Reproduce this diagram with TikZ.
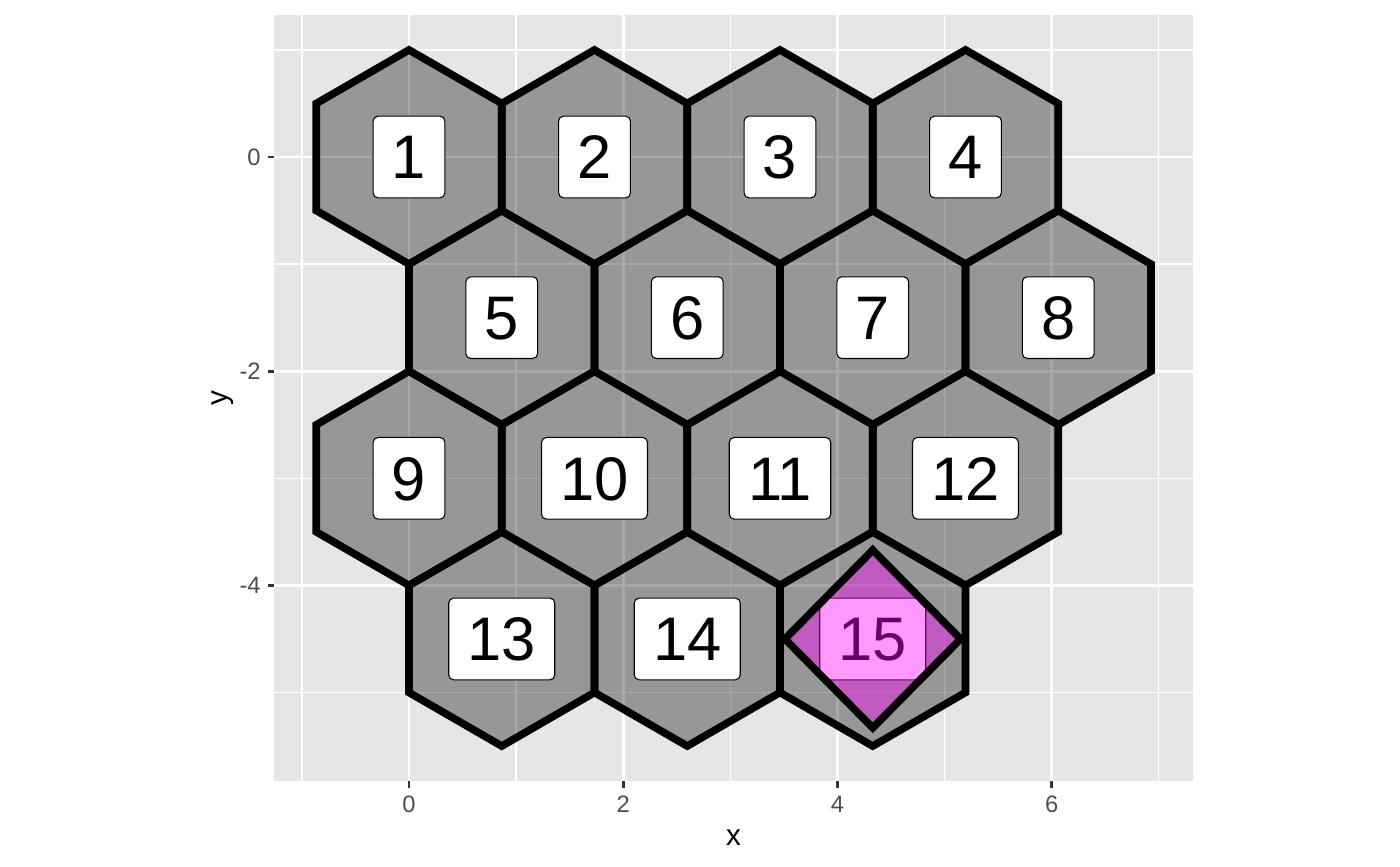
\documentclass[tikz,border=0pt]{standalone}
\usepackage{fontspec}
\setmainfont{Liberation Sans}
\usetikzlibrary{positioning}
\definecolor{panelbg}{HTML}{E6E6E6}
\definecolor{ticktext}{HTML}{4D4D4D}
\definecolor{tickline}{HTML}{333333}
\definecolor{gemfill}{RGB}{255,0,255}
\begin{document}
\begin{tikzpicture}[x=2.142cm,y=2.142cm,
    hexa/.style={draw=black,line width=4.3pt,fill=black,fill opacity=0.34},
    lbl/.style={draw,fill=white,rounded corners=2.8pt,line width=0.6pt,
      font=\fontsize{35}{42}\selectfont,inner xsep=10.7pt,inner ysep=0pt,
      minimum height=46.5pt,text height=25pt,text depth=0pt},
    gem/.style={draw=black,line width=4.3pt,fill=gemfill,fill opacity=0.4},
    tlab/.style={text=ticktext,font=\fontsize{13.5}{16}\selectfont,inner sep=0pt}]
  \useasboundingbox (-3.819,-6.620) rectangle (9.253,1.466);
  % panel
  \fill[panelbg] (-1.256,-5.825) rectangle (7.318,1.325);
  \foreach \gx in {-1,1,3,5,7}
    \draw[white,line width=0.8pt] (\gx,-5.825) -- (\gx,1.325);
  \foreach \gy in {1,-1,-3,-5}
    \draw[white,line width=0.8pt] (-1.256,\gy) -- (7.318,\gy);
  \foreach \gx in {0,2,4,6}
    \draw[white,line width=1.6pt] (\gx,-5.825) -- (\gx,1.325);
  \foreach \gy in {0,-2,-4}
    \draw[white,line width=1.6pt] (-1.256,\gy) -- (7.318,\gy);

  % hexagons
  \foreach \n/\cx/\cy in {1/0/0,2/1.732/0,3/3.464/0,4/5.196/0,
      5/0.866/-1.5,6/2.598/-1.5,7/4.330/-1.5,8/6.062/-1.5,
      9/0/-3,10/1.732/-3,11/3.464/-3,12/5.196/-3,
      13/0.866/-4.5,14/2.598/-4.5,15/4.330/-4.5}
    \draw[hexa] (\cx,\cy) +(90:1) -- +(150:1) -- +(210:1) -- +(270:1)
      -- +(330:1) -- +(30:1) -- cycle;
  \foreach \n/\cx/\cy in {1/0/0,2/1.732/0,3/3.464/0,4/5.196/0,
      5/0.866/-1.5,6/2.598/-1.5,7/4.330/-1.5,8/6.062/-1.5,
      9/0/-3,10/1.732/-3,11/3.464/-3,12/5.196/-3,
      13/0.866/-4.5,14/2.598/-4.5,15/4.330/-4.5}
    \path (\cx,\cy) node[lbl] (h\n) {\n};

  % highlighted cell
  \draw[gem] (h15.center) +(0,0.83) -- +(0.82,0) -- +(0,-0.83)
    -- +(-0.82,0) -- cycle;

  % axes
  \foreach \tx in {0,2,4,6} {
    \draw[tickline,line width=1.5pt] (\tx,-5.825) -- (\tx,-5.890);
    \path (\tx,-6.116) node[tlab,anchor=base] (xt\tx) {\tx};
  }
  \foreach \ty in {0,-2,-4} {
    \draw[tickline,line width=1.5pt] (-1.256,\ty) -- (-1.321,\ty);
    \path (-1.382,\ty-0.079) node[tlab,anchor=base east] (yt\ty) {\ty};
  }
  \path (3.031,-6.429) node[anchor=base,inner sep=0pt,
    font=\fontsize{16.9}{20}\selectfont] (xlab) {x};
  \path (-1.699,-2.25) node[anchor=base,inner sep=0pt,rotate=90,
    font=\fontsize{16.9}{20}\selectfont] (ylab) {y};
\end{tikzpicture}
\end{document}
